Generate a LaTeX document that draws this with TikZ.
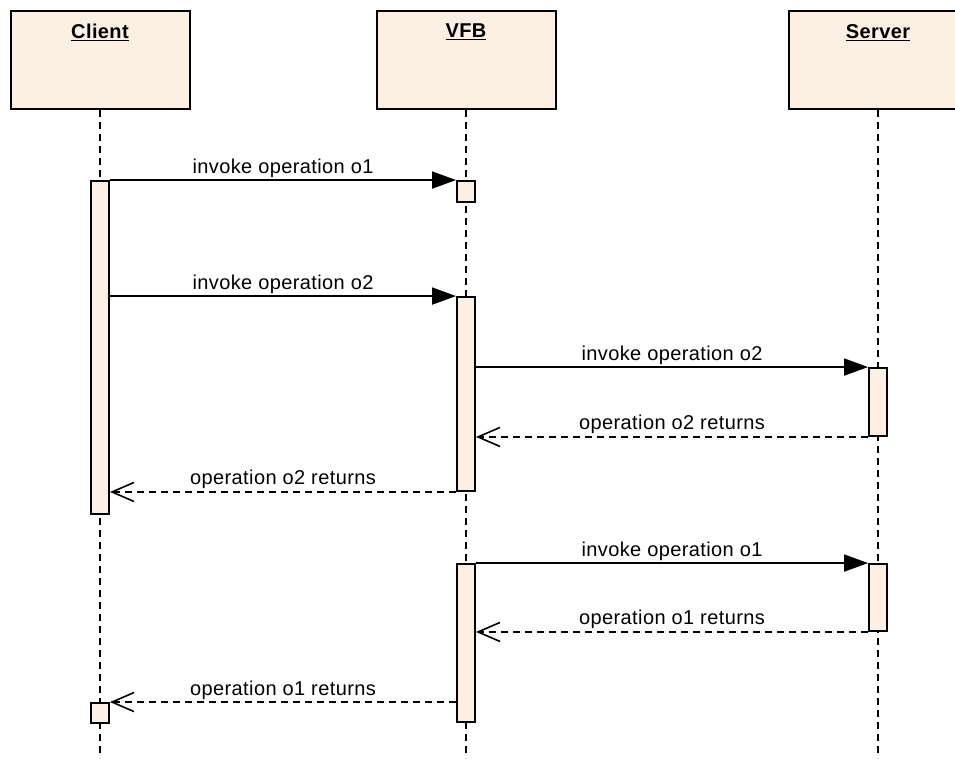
\documentclass[tikz,border=0pt]{standalone}
\usepackage{fontspec}
\setmainfont{Liberation Sans}[LetterSpace=2]
\usepackage{xcolor}
\usepackage{tikz}
\usetikzlibrary{arrows.meta, positioning}
\definecolor{fond}{RGB}{251,240,227}

\begin{document}
\begin{tikzpicture}[x=1pt, y=-1pt,
    tete/.style={draw, line width=2pt, fill=fond, minimum width=179pt, minimum height=98pt, inner sep=0pt},
    nom/.style={inner sep=0pt, font=\fontsize{20}{24}\selectfont\bfseries},
    activ/.style={draw, line width=1.9pt, fill=fond, minimum width=18pt, inner sep=0pt},
    vie/.style={line width=1.8pt, dash pattern=on 7pt off 5pt},
    appel/.style={line width=1.8pt, -{Triangle[length=24pt,width=17pt]}},
    retour/.style={line width=1.8pt, dash pattern=on 7pt off 5pt, -{Straight Barb[length=22pt,width=19pt,line width=1.6pt]}},
    msg/.style={above=2pt, inner sep=0pt, font=\fontsize{20}{24}\selectfont}]
    \useasboundingbox (0,0) rectangle (955,760);
    \def\ybas{758}   % fin des lignes de vie

    % Objets
    \node[tete] (client) at (100,60) {};
    \node[tete] (vfb) at (466,60) {};
    \node[tete] (server) at (878,60) {};
    \node[nom, below=14pt of client.north] {\underline{Client}};
    \node[nom, below=14pt of vfb.north] {\underline{VFB}};
    \node[nom, below=14pt of server.north] {\underline{Server}};

    % Lignes de vie
    \foreach \o in {client, vfb, server}{
        \draw[vie] (\o.south) -- (\o.south |- 0,\ybas);
    }

    % Activations
    \node[activ, minimum height=333pt] (ca1) at (100,347.5) {};
    \node[activ, minimum height=20pt] (cr) at (100,713) {};
    \node[activ, minimum height=21pt] (va1) at (466,191.5) {};
    \node[activ, minimum height=194pt] (va2) at (466,394) {};
    \node[activ, minimum height=158pt] (va3) at (466,643) {};
    \node[activ, minimum height=68pt] (sa1) at (878,402) {};
    \node[activ, minimum height=67pt] (sa2) at (878,597.5) {};

    % Messages
    \draw[appel] (ca1.east |- va1.north) -- node[msg] {invoke operation o1} (va1.north west);
    \draw[appel] (ca1.east |- va2.north) -- node[msg] {invoke operation o2} (va2.north west);
    \draw[appel] (va2.east |- sa1.north) -- node[msg] {invoke operation o2} (sa1.north west);
    \draw[retour] (sa1.south west) -- node[msg] {operation o2 returns} (va2.east |- sa1.south);
    \draw[retour] (va2.south west) -- node[msg] {operation o2 returns} (ca1.east |- va2.south);
    \draw[appel] (va3.north east) -- node[msg] {invoke operation o1} (sa2.north west);
    \draw[retour] (sa2.south west) -- node[msg] {operation o1 returns} (va3.east |- sa2.south);
    \draw[retour] (va3.west |- cr.north) -- node[msg] {operation o1 returns} (cr.north east);
\end{tikzpicture}
\end{document}
